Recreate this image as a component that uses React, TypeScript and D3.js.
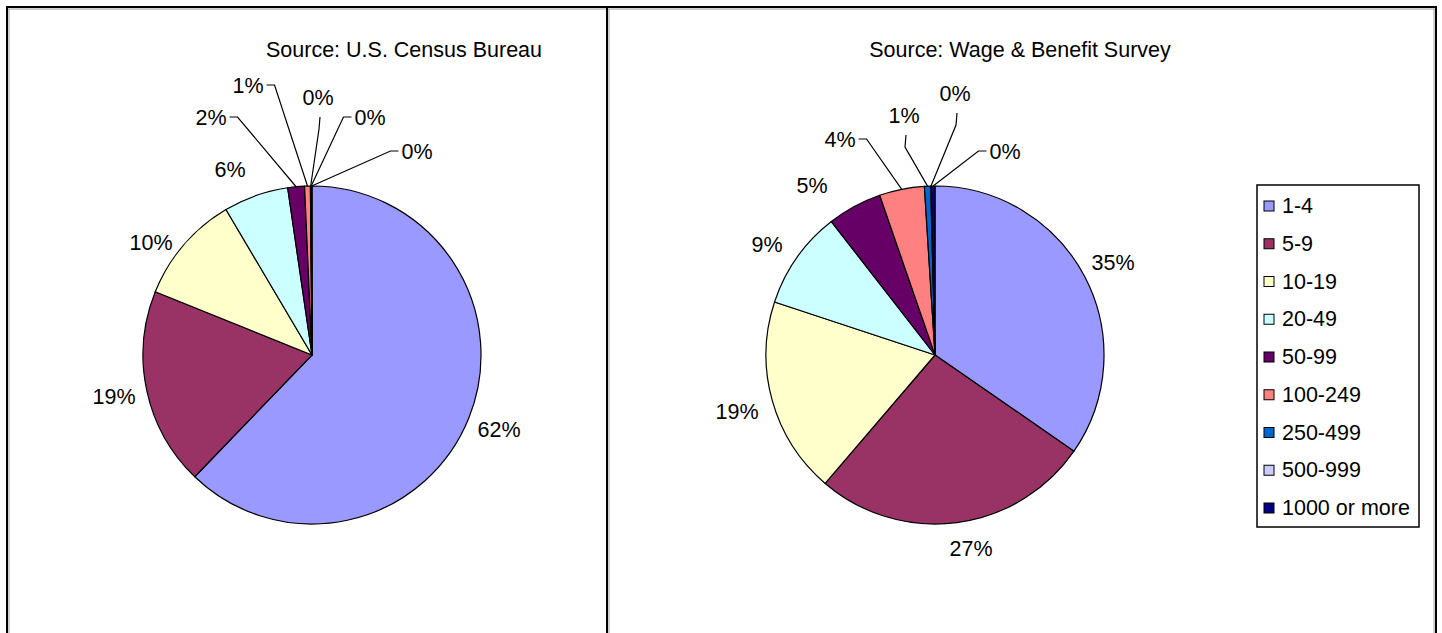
import React from "react";
import * as d3 from "d3";

const categories = ["1-4", "5-9", "10-19", "20-49", "50-99", "100-249", "250-499", "500-999", "1000 or more"];
const colors = ["#9999FF", "#993366", "#FFFFCC", "#CCFFFF", "#660066", "#FF8080", "#0066CC", "#CCCCFF", "#000080"];
const censusValues = [62.2, 18.9, 10.4, 6.2, 1.6, 0.55, 0.05, 0.05, 0.05];
const surveyValues = [34.6, 26.6, 18.8, 9.4, 5.2, 4.3, 0.6, 0.05, 0.35];
const titles = ["Source: U.S. Census Bureau", "Source: Wage & Benefit Survey"];

type Leader = "none" | "right" | "left" | "below";
interface LabelPos { dx: number; dy: number; leader: Leader }

const censusLabels: LabelPos[] = [
  { dx: 187, dy: 75, leader: "none" },
  { dx: -198, dy: 42, leader: "none" },
  { dx: -161, dy: -112, leader: "none" },
  { dx: -82, dy: -185, leader: "none" },
  { dx: -101, dy: -237, leader: "right" },
  { dx: -64, dy: -269, leader: "right" },
  { dx: 6, dy: -257, leader: "below" },
  { dx: 58, dy: -237, leader: "left" },
  { dx: 105, dy: -203, leader: "left" },
];
const surveyLabels: LabelPos[] = [
  { dx: 178, dy: -92, leader: "none" },
  { dx: 36, dy: 194, leader: "none" },
  { dx: -198, dy: 57, leader: "none" },
  { dx: -168, dy: -110, leader: "none" },
  { dx: -123, dy: -169, leader: "none" },
  { dx: -95, dy: -215, leader: "right" },
  { dx: -31, dy: -239, leader: "below" },
  { dx: 20, dy: -261, leader: "below" },
  { dx: 70, dy: -203, leader: "left" },
];

const FONT = "'Liberation Sans', Arial, sans-serif";
const FS = 21.5;

function textWidth(s: string) {
  let w = 0;
  for (const ch of s) w += ch === "%" ? 0.889 : 0.556;
  return w * FS;
}

function Pie({ cx, cy, r, values, labels }: { cx: number; cy: number; r: number; values: number[]; labels: LabelPos[] }) {
  const pie = d3.pie<number>().sort(null).value((d) => d)(values);
  const arc = d3.arc<d3.PieArcDatum<number>>().innerRadius(0).outerRadius(r);
  const total = d3.sum(values);
  return (
    <g transform={`translate(${cx},${cy})`}>
      {pie.map((p, i) => (
        <path key={i} d={arc(p) || ""} fill={colors[i]} stroke="#000" strokeWidth={1.2} strokeLinejoin="round" />
      ))}
      {pie.map((p, i) => {
        const lp = labels[i];
        const txt = `${Math.round((values[i] / total) * 100)}%`;
        const w = textWidth(txt);
        const mid = (p.startAngle + p.endAngle) / 2;
        const ex = r * Math.sin(mid);
        const ey = -r * Math.cos(mid);
        let pts: [number, number][] = [];
        if (lp.leader === "right") {
          const sx = lp.dx + w / 2 + 3;
          pts = [[sx, lp.dy - 1], [sx + 8, lp.dy - 1], [ex, ey]];
        } else if (lp.leader === "left") {
          const sx = lp.dx - w / 2 - 3;
          pts = [[sx, lp.dy - 1], [sx - 8, lp.dy - 1], [ex, ey]];
        } else if (lp.leader === "below") {
          pts = [[lp.dx + 2, lp.dy + 19], [lp.dx + 1, lp.dy + 31], [ex, ey]];
        }
        return (
          <g key={`l${i}`}>
            {pts.length > 0 && (
              <path d={d3.line()(pts) || ""} fill="none" stroke="#000" strokeWidth={1.2} />
            )}
            <text x={lp.dx} y={lp.dy} textAnchor="middle" dominantBaseline="central" fontFamily={FONT} fontSize={FS} fill="#000">
              {txt}
            </text>
          </g>
        );
      })}
    </g>
  );
}

export default function App() {
  const legendX = 1257, legendY = 185, legendW = 162, legendH = 342;
  const rowY = d3.scalePoint<string>().domain(categories).range([206, 508]);
  return (
    <svg width={1442} height={633} style={{ position: "absolute", left: 0, top: 0, background: "#fff" }}>
      <rect x={0} y={0} width={1442} height={633} fill="#fff" />
      {/* panel frames */}
      <line x1={6} y1={7} x2={1437} y2={7} stroke="#000" strokeWidth={2} />
      <line x1={7} y1={9} x2={1435} y2={9} stroke="#a0a0a0" strokeWidth={1} />
      <line x1={7} y1={7} x2={7} y2={633} stroke="#000" strokeWidth={2} />
      <line x1={9} y1={9} x2={9} y2={633} stroke="#a0a0a0" strokeWidth={1} />
      <line x1={607} y1={7} x2={607} y2={633} stroke="#000" strokeWidth={2} />
      <line x1={609} y1={9} x2={609} y2={633} stroke="#a0a0a0" strokeWidth={1} />
      <line x1={1436} y1={7} x2={1436} y2={633} stroke="#000" strokeWidth={2} />
      <line x1={1434} y1={9} x2={1434} y2={633} stroke="#a0a0a0" strokeWidth={1} />

      <text x={404} y={50} textAnchor="middle" dominantBaseline="central" fontFamily={FONT} fontSize={FS}>{titles[0]}</text>
      <text x={1020} y={50} textAnchor="middle" dominantBaseline="central" fontFamily={FONT} fontSize={FS}>{titles[1]}</text>

      <Pie cx={312} cy={355} r={169} values={censusValues} labels={censusLabels} />
      <Pie cx={935} cy={355} r={169} values={surveyValues} labels={surveyLabels} />

      <rect x={legendX} y={legendY} width={legendW} height={legendH} fill="#fff" stroke="#000" strokeWidth={1.5} />
      {categories.map((c, i) => (
        <g key={c}>
          <rect x={1264} y={(rowY(c) || 0) - 5} width={10} height={10} fill={colors[i]} stroke="#000" strokeWidth={1} />
          <text x={1282} y={rowY(c)} dominantBaseline="central" fontFamily={FONT} fontSize={FS}>{c}</text>
        </g>
      ))}
    </svg>
  );
}
